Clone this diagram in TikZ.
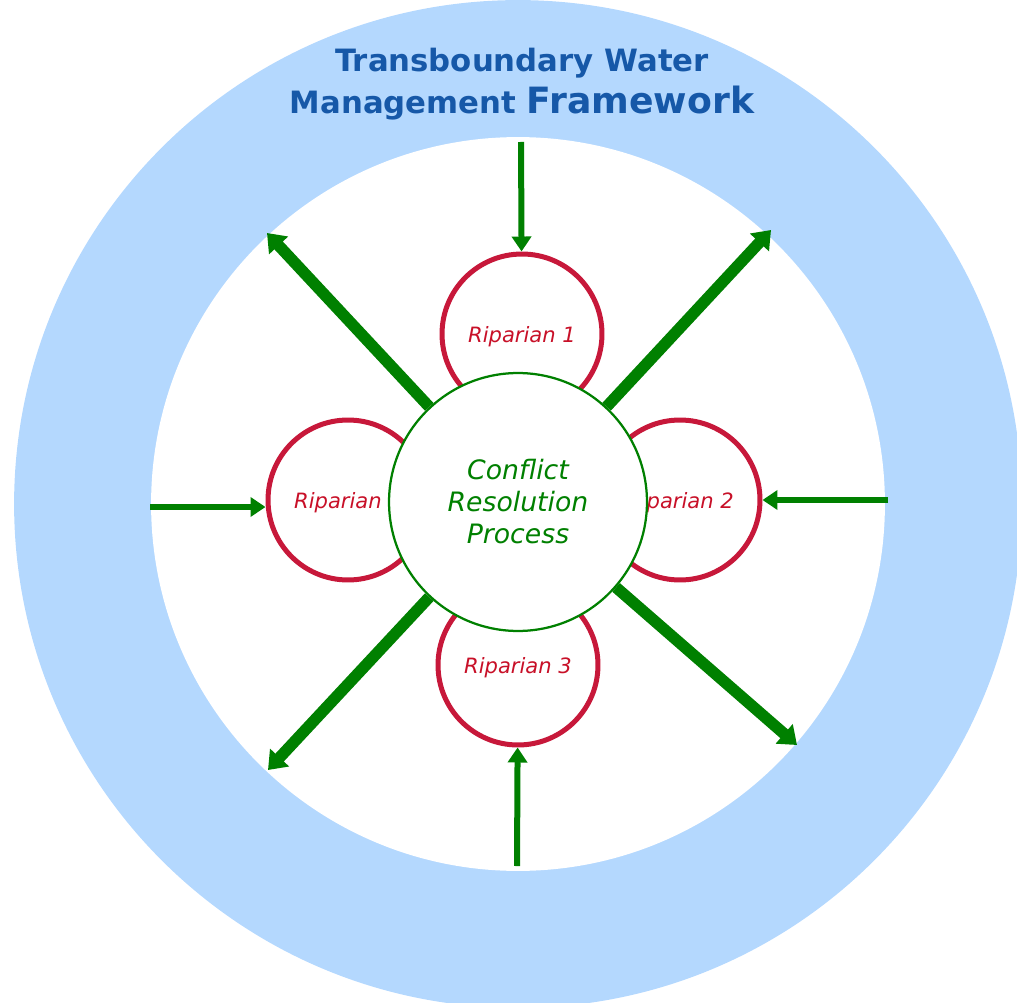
\documentclass[tikz,border=0pt]{standalone}
\usepackage{xcolor}
\usepackage{fontspec}
\usepackage{tikz}
\usetikzlibrary{arrows.meta,shapes,positioning}
\newfontfamily\dejavu{DejaVu Sans}
\definecolor{ringblue}{RGB}{180,216,254}
\definecolor{titleblue}{RGB}{22,88,168}
\definecolor{ripred}{RGB}{199,24,58}
\definecolor{riptext}{RGB}{200,16,40}
\definecolor{flowgreen}{RGB}{0,128,0}

\begin{document}
\begin{tikzpicture}[x=0.02cm,y=-0.02cm,
  riparian/.style={draw=ripred, line width=0.1cm, circle, fill=white, minimum size=3.2cm, inner sep=0pt, text depth=0pt, text=riptext, font=\dejavu\itshape\fontsize{12}{14}\selectfont},
  process/.style={draw=flowgreen, line width=0.045cm, circle, fill=white, minimum size=5.16cm, inner sep=0pt, align=center, text=flowgreen, font=\dejavu\itshape\fontsize{15.2}{18.2}\selectfont},
  feedarrow/.style={draw=flowgreen, line width=0.12cm, -{Triangle[length=0.3cm,width=0.38cm]}},
  outarrow/.style={draw=flowgreen, line width=0.23cm, -{Triangle[length=0.34cm,width=0.5cm]}}]
\useasboundingbox (0,0) rectangle (1017,1003);
\clip (0,0) rectangle (1017,1003);

% framework ring
\coordinate (mid) at (518,504);
\fill[ringblue] (mid) circle[radius=10.08cm];
\fill[white] (mid) circle[radius=7.34cm];

\node[anchor=base, text=titleblue, font=\dejavu\bfseries\fontsize{17.5}{21}\selectfont] (title1) at (522,72) {Transboundary Water};
\node[anchor=base, text=titleblue, font=\dejavu\bfseries\fontsize{17.5}{21}\selectfont] (title2) at (522,114) {Management {\fontsize{20.6}{24}\selectfont Framework}};

% riparian bubbles
\node[riparian] (rip1) at (522,334) {Riparian 1};
\node[riparian] (rip2) at (680,500) {\phantom{Ri}parian 2};
\node[riparian] (rip3) at (518,665) {Riparian 3};
\node[riparian] (rip4) at (348,500) {Riparian\phantom{ 4}};

\node[process] (crp) at (518,502) {Conflict\\Resolution\\Process};

% ends on the inner edge of the ring
\coordinate (inTop) at (521,142);
\coordinate (inRight) at (888,500);
\coordinate (inBottom) at (517,866);
\coordinate (inLeft) at (150,507);
\coordinate (outNW) at (267,233);
\coordinate (outNE) at (771,230);
\coordinate (outSW) at (268,770);
\coordinate (outSE) at (797,745);

\draw[feedarrow] (inTop) -- (rip1);
\draw[feedarrow] (inRight) -- (rip2);
\draw[feedarrow] (inBottom) -- (rip3);
\draw[feedarrow] (inLeft) -- (inLeft -| rip4.west);

\draw[outarrow] (crp) -- (outNW);
\draw[outarrow] (crp) -- (outNE);
\draw[outarrow] (crp) -- (outSW);
\draw[outarrow] (crp) -- (outSE);
\end{tikzpicture}
\end{document}
